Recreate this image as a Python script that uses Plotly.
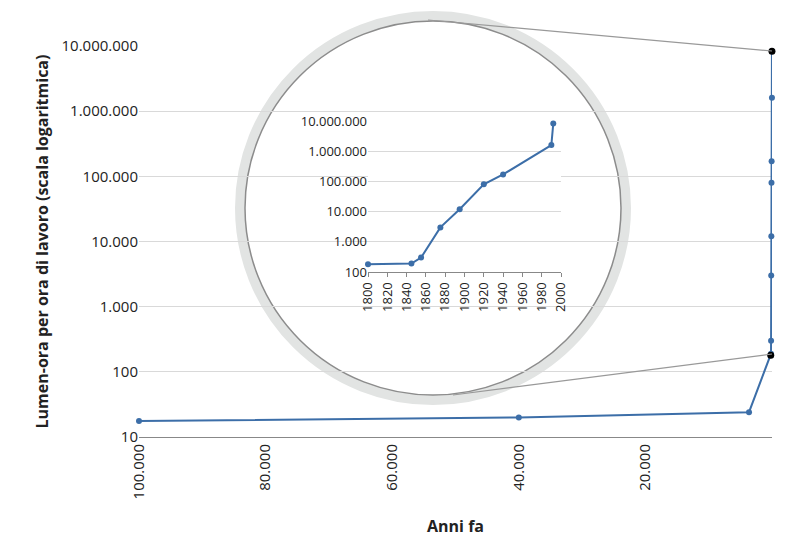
import plotly.graph_objects as go

# main chart: years ago vs lumen-hours per hour of work
anni_fa = [100000, 40000, 3630]
lumen_antichi = [17.6, 20, 24]
anni_moderni = [1800, 1845, 1855, 1875, 1895, 1920, 1940, 1990, 1992]
lumen_moderni = [180, 190, 300, 3000, 12000, 80000, 170000, 1600000, 8300000]
anno_rif = 2000

y_tick_vals = [10, 100, 1000, 10000, 100000, 1000000, 10000000]
y_tick_text = ["10", "100", "1.000", "10.000", "100.000", "1.000.000", "10.000.000"]
x_tick_vals = [100000, 80000, 60000, 40000, 20000]
x_tick_text = ["100.000", "80.000", "60.000", "40.000", "20.000"]
inset_years = list(range(1800, 2001, 20))

blue = "#3c6ea8"
W, H = 810, 545
L, R, T, B = 131, 764, 38, 429


def px(x):
    return (x - L) / (R - L)


def py(y):
    return (B - y) / (B - T)


main_x = anni_fa + [anno_rif - a for a in anni_moderni]
main_y = lumen_antichi + lumen_moderni

fig = go.Figure()
fig.add_trace(go.Scatter(x=main_x, y=main_y, mode="lines+markers", cliponaxis=False,
                         line=dict(color=blue, width=2), marker=dict(color=blue, size=6),
                         hoverinfo="skip"))
fig.add_trace(go.Scatter(x=[anno_rif - anni_moderni[0], anno_rif - anni_moderni[-1]],
                         y=[lumen_moderni[0], lumen_moderni[-1]], mode="markers",
                         cliponaxis=False,
                         marker=dict(color="black", size=7), hoverinfo="skip"))
fig.add_trace(go.Scatter(x=anni_moderni, y=lumen_moderni, mode="lines+markers",
                         xaxis="x2", yaxis="y2", cliponaxis=False,
                         line=dict(color=blue, width=2), marker=dict(color=blue, size=6),
                         hoverinfo="skip"))

for lab, val in [("2000", lumen_moderni[-1]), ("1800", lumen_moderni[0])]:
    fig.add_annotation(x=1.0, y=val, yref="y", xref="paper", text=lab, showarrow=False,
                       xanchor="left", xshift=6, font=dict(size=15, color="#222"))

# magnifier circle
cx0, cx1, cy0, cy1 = 232, 618, 8, 392
fig.add_shape(type="circle", xref="paper", yref="paper", layer="between",
              x0=px(cx0), x1=px(cx1), y0=py(cy1), y1=py(cy0),
              fillcolor="white", line=dict(color="#e2e4e3", width=10))
fig.add_shape(type="circle", xref="paper", yref="paper", layer="between",
              x0=px(cx0 + 5), x1=px(cx1 - 5), y0=py(cy1 - 5), y1=py(cy0 + 5),
              line=dict(color="#8c8c8c", width=1.5))
fig.add_shape(type="line", xref="paper", yref="paper",
              x0=px(420), y0=py(12), x1=px(764), y1=py(43),
              line=dict(color="#999", width=1.2))
fig.add_shape(type="line", xref="paper", yref="paper",
              x0=px(445), y0=py(387), x1=px(764), y1=py(346),
              line=dict(color="#999", width=1.2))

font = "Open Sans, Noto Sans, sans-serif"
fig.update_layout(
    width=W, height=H, margin=dict(l=L, r=W - R, t=T, b=H - B, autoexpand=False),
    paper_bgcolor="white", plot_bgcolor="white", showlegend=False,
    font=dict(family=font, size=15, color="#222"),
    xaxis=dict(range=[100000, 0], tickvals=x_tick_vals, ticktext=x_tick_text,
               tickangle=-90, showgrid=False, showline=True, linecolor="#888",
               automargin=False, zeroline=False,
               title=dict(text="<b>Anni fa</b>", font=dict(size=16), standoff=22)),
    yaxis=dict(type="log", range=[1, 7], tickvals=y_tick_vals, ticktext=y_tick_text,
               gridcolor="#d9d9d9", zeroline=False, automargin=False,
               title=dict(text="<b>Lumen-ora per ora di lavoro (scala logaritmica)</b>",
                          font=dict(size=16), standoff=8)),
    xaxis2=dict(domain=[px(360), px(553)], anchor="y2", range=[1800, 2000],
                tickvals=inset_years, tickangle=-90, showgrid=False, showline=True,
                linecolor="#888", ticks="outside", ticklen=4, tickcolor="#888",
                tickfont=dict(size=13), zeroline=False, automargin=False),
    yaxis2=dict(domain=[py(264), py(113)], anchor="x2", type="log", range=[2, 7],
                tickvals=y_tick_vals[1:], ticktext=y_tick_text[1:], automargin=False,
                gridcolor="#d9d9d9", zeroline=False, tickfont=dict(size=13)),
)

fig.write_html("out.html")
